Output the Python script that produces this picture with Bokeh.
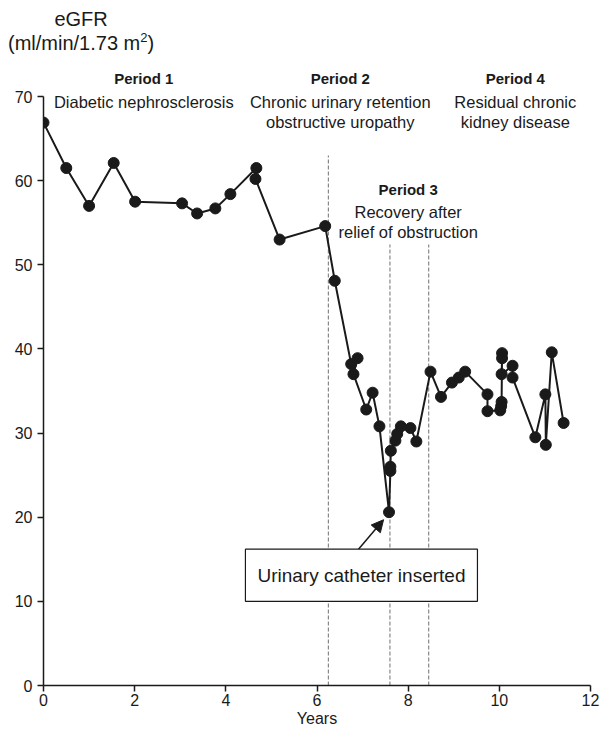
from bokeh.plotting import figure
from bokeh.models import Range1d, Label, BoxAnnotation, Arrow, NormalHead, FixedTicker, Div
from bokeh.layouts import column
from bokeh.embed import file_html
from bokeh.resources import INLINE

# ---- data ----
years = [0.0, 0.5, 1.0, 1.54, 2.01, 3.04, 3.37, 3.77, 4.10, 4.67, 4.65, 5.18,
         6.18, 6.39, 6.75, 6.89, 6.80, 7.08, 7.22, 7.37, 7.58, 7.61, 7.61, 7.62,
         7.72, 7.76, 7.84, 8.05, 8.18, 8.49, 8.72, 8.96, 9.11, 9.25, 9.74, 9.74,
         10.02, 10.04, 10.05, 10.06, 10.06, 10.05, 10.29, 10.29, 10.79, 11.01,
         11.02, 11.15, 11.41]
egfr = [66.9, 61.5, 57.0, 62.1, 57.5, 57.3, 56.1, 56.7, 58.4, 61.5, 60.2, 53.0,
        54.6, 48.1, 38.2, 38.9, 37.0, 32.8, 34.8, 30.8, 20.6, 25.5, 26.0, 27.9,
        29.1, 29.9, 30.8, 30.6, 29.0, 37.3, 34.3, 36.0, 36.6, 37.3, 34.6, 32.6,
        32.7, 33.2, 33.7, 39.5, 38.9, 37.0, 38.0, 36.6, 29.5, 34.6,
        28.6, 39.6, 31.2]
period_bounds = [6.25, 7.6, 8.45]
period_titles = ["Period 1", "Period 2", "Period 3", "Period 4"]
period_desc = [["Diabetic nephrosclerosis"],
               ["Chronic urinary retention", "obstructive uropathy"],
               ["Recovery after", "relief of obstruction"],
               ["Residual chronic", "kidney disease"]]
x_ticks = [0, 2, 4, 6, 8, 10, 12]
y_ticks = [0, 10, 20, 30, 40, 50, 60, 70]
catheter_text = "Urinary catheter inserted"

FONT = "Liberation Sans"
INK = "#1a1a1a"

HEADER_H = 60

p = figure(width=605, height=742 - HEADER_H, output_backend="svg", toolbar_location=None,
           x_range=Range1d(0, 12), y_range=Range1d(0, 74.28),
           min_border_left=43, min_border_right=15, min_border_top=0,
           min_border_bottom=57, margin=(0, 0, 0, 0))
p.outline_line_color = None
p.xgrid.visible = False
p.ygrid.visible = False
p.background_fill_color = "white"
p.border_fill_color = "white"

for ax, ticks, b in ((p.xaxis[0], x_ticks, (0, 12)), (p.yaxis[0], y_ticks, (0, 70))):
    ax.ticker = FixedTicker(ticks=ticks)
    ax.bounds = b
    ax.axis_line_color = INK
    ax.axis_line_width = 1.5
    ax.major_tick_line_color = INK
    ax.major_tick_line_width = 1.5
    ax.major_tick_out = 6
    ax.major_tick_in = 0
    ax.minor_tick_line_color = None
    ax.major_label_text_font = FONT
    ax.major_label_text_font_size = "16px"
    ax.major_label_text_color = INK
    ax.major_label_standoff = 5

p.xaxis.major_label_standoff = 2
p.xaxis.axis_label = "Years"
p.xaxis.axis_label_text_font = FONT
p.xaxis.axis_label_text_font_size = "16px"
p.xaxis.axis_label_text_font_style = "normal"
p.xaxis.axis_label_text_color = INK
p.xaxis.axis_label_standoff = 1

# period boundary dashed lines
tops = [63.0, 52.4, 52.4]
p.segment(x0=period_bounds, y0=[0] * 3, x1=period_bounds, y1=tops,
          line_color="#888888", line_width=1.2, line_dash="4 2")

# data
p.line(years, egfr, line_color=INK, line_width=2)
p.scatter(years, egfr, size=11, fill_color=INK, line_color=INK)

# annotation box + arrow
p.add_layout(Arrow(end=NormalHead(size=12, fill_color=INK, line_color=INK),
                   x_start=6.91, y_start=16.2, x_end=7.46, y_end=19.7,
                   line_color=INK, line_width=1.5))
p.add_layout(BoxAnnotation(left=4.43, right=9.52, bottom=10.0, top=16.2,
                           fill_color="white", fill_alpha=1.0,
                           line_color=INK, line_width=1.2, line_alpha=1.0))
p.add_layout(Label(x=6.975, y=13.1, text=catheter_text, text_align="center",
                   text_baseline="middle", text_font=FONT,
                   text_font_size="19px", text_color=INK))

# period texts
title_pos = [(2.2, 72.1), (6.51, 72.1), (8.0, 59.0), (10.35, 72.1)]
for (tx, ty), title, desc in zip(title_pos, period_titles, period_desc):
    p.add_layout(Label(x=tx, y=ty, text=title, text_align="center",
                       text_baseline="middle", text_font=FONT,
                       text_font_size="15px", text_font_style="bold",
                       text_color=INK))
    for i, line in enumerate(desc):
        p.add_layout(Label(x=tx, y=ty - 2.75 - 2.4 * i, text=line,
                           text_align="center", text_baseline="middle",
                           text_font=FONT, text_font_size="16.5px",
                           text_color=INK))

# y-axis title (header above the plot)
header = Div(
    text=('<div style="position:absolute; left:8px; top:7px; text-align:center; '
          'font-family:\'Liberation Sans\'; font-size:20px; line-height:24px; color:#1a1a1a;">'
          'eGFR<br>(ml/min/1.73 m<sup style="font-size:13px; line-height:0;">2</sup>)</div>'),
    width=605, height=HEADER_H, margin=(0, 0, 0, 0),
    styles={"position": "relative", "overflow": "visible"})

layout = column(header, p, spacing=0, margin=(0, 0, 0, 0))
open("out.html", "w").write(file_html(layout, INLINE))
